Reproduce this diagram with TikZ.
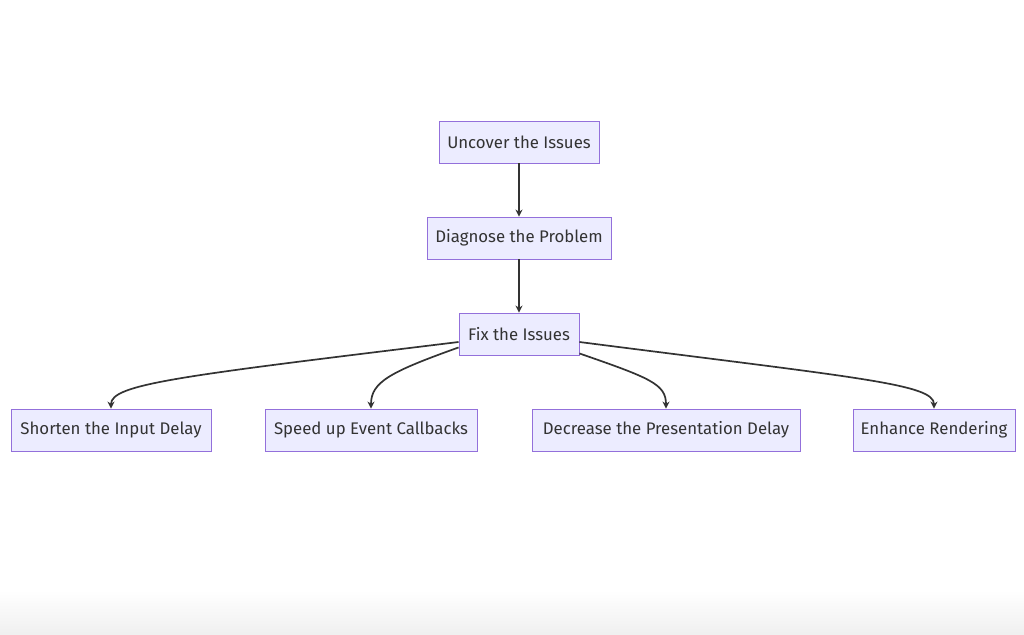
\documentclass[tikz,border=0pt]{standalone}
\usepackage{fontspec}
\setmainfont{Fira Sans}
\usetikzlibrary{arrows.meta}
\definecolor{boxfill}{HTML}{ECECFF}
\definecolor{boxline}{HTML}{9370DB}
\definecolor{ink}{HTML}{333333}
\tikzset{
  box/.style={draw=boxline, fill=boxfill, line width=0.9pt, minimum height=42pt,
    inner sep=0pt, text=ink, font=\fontsize{16.8}{20}\selectfont},
  link/.style={draw=ink, line width=1.7pt, -{Stealth[length=7pt,width=7pt]}}
}
\begin{document}
\begin{tikzpicture}[x=1pt,y=-1pt]
\useasboundingbox (0,0) rectangle (1024,634);
\shade[top color=white, bottom color=black!6] (0,590) rectangle (1024,634);
\node[box, minimum width=160pt] (a) at (519,142) {Uncover the Issues};
\node[box, minimum width=184pt] (b) at (519,238) {Diagnose the Problem};
\node[box, minimum width=120pt] (c) at (519,334) {Fix the Issues};
\node[box, minimum width=200pt] (d) at (111,430) {Shorten the Input Delay};
\node[box, minimum width=212pt] (e) at (371,430) {Speed up Event Callbacks};
\node[box, minimum width=268pt] (f) at (666,430) {Decrease the Presentation Delay};
\node[box, minimum width=162pt] (g) at (934,430) {Enhance Rendering};
\draw[link] (a) -- (b);
\draw[link] (b) -- (c);
\draw[link] (c.west |- 0,342) .. controls (180,376) and (111,384) .. (d.north);
\draw[link] (c.south west) ++(0,-8) .. controls (390,372) and (371,382) .. (e.north);
\draw[link] (c.south east) ++(0,-2) .. controls (650,378) and (666,384) .. (f.north);
\draw[link] (c.east |- 0,342) .. controls (860,378) and (934,384) .. (g.north);
\end{tikzpicture}
\end{document}
